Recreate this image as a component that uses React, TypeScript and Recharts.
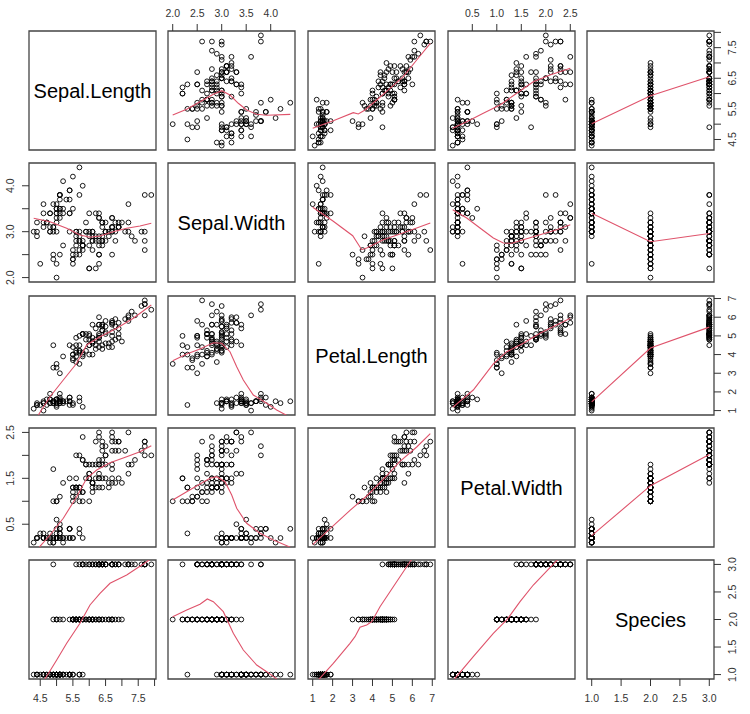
import React from 'react';
import { ScatterChart, Scatter, XAxis, YAxis, ReferenceArea } from 'recharts';

// ---------- data (iris) ----------
const SEPAL_LENGTH = [
  5.1,4.9,4.7,4.6,5.0,5.4,4.6,5.0,4.4,4.9,5.4,4.8,4.8,4.3,5.8,5.7,5.4,5.1,5.7,5.1,5.4,5.1,4.6,5.1,4.8,
  5.0,5.0,5.2,5.2,4.7,4.8,5.4,5.2,5.5,4.9,5.0,5.5,4.9,4.4,5.1,5.0,4.5,4.4,5.0,5.1,4.8,5.1,4.6,5.3,5.0,
  7.0,6.4,6.9,5.5,6.5,5.7,6.3,4.9,6.6,5.2,5.0,5.9,6.0,6.1,5.6,6.7,5.6,5.8,6.2,5.6,5.9,6.1,6.3,6.1,6.4,
  6.6,6.8,6.7,6.0,5.7,5.5,5.5,5.8,6.0,5.4,6.0,6.7,6.3,5.6,5.5,5.5,6.1,5.8,5.0,5.6,5.7,5.7,6.2,5.1,5.7,
  6.3,5.8,7.1,6.3,6.5,7.6,4.9,7.3,6.7,7.2,6.5,6.4,6.8,5.7,5.8,6.4,6.5,7.7,7.7,6.0,6.9,5.6,7.7,6.3,6.7,
  7.2,6.2,6.1,6.4,7.2,7.4,7.9,6.4,6.3,6.1,7.7,6.3,6.4,6.0,6.9,6.7,6.9,5.8,6.8,6.7,6.7,6.3,6.5,6.2,5.9,
];
const SEPAL_WIDTH = [
  3.5,3.0,3.2,3.1,3.6,3.9,3.4,3.4,2.9,3.1,3.7,3.4,3.0,3.0,4.0,4.4,3.9,3.5,3.8,3.8,3.4,3.7,3.6,3.3,3.4,
  3.0,3.4,3.5,3.4,3.2,3.1,3.4,4.1,4.2,3.1,3.2,3.5,3.6,3.0,3.4,3.5,2.3,3.2,3.5,3.8,3.0,3.8,3.2,3.7,3.3,
  3.2,3.2,3.1,2.3,2.8,2.8,3.3,2.4,2.9,2.7,2.0,3.0,2.2,2.9,2.9,3.1,3.0,2.7,2.2,2.5,3.2,2.8,2.5,2.8,2.9,
  3.0,2.8,3.0,2.9,2.6,2.4,2.4,2.7,2.7,3.0,3.4,3.1,2.3,3.0,2.5,2.6,3.0,2.6,2.3,2.7,3.0,2.9,2.9,2.5,2.8,
  3.3,2.7,3.0,2.9,3.0,3.0,2.5,2.9,2.5,3.6,3.2,2.7,3.0,2.5,2.8,3.2,3.0,3.8,2.6,2.2,3.2,2.8,2.8,2.7,3.3,
  3.2,2.8,3.0,2.8,3.0,2.8,3.8,2.8,2.8,2.6,3.0,3.4,3.1,3.0,3.1,3.1,3.1,2.7,3.2,3.3,3.0,2.5,3.0,3.4,3.0,
];
const PETAL_LENGTH = [
  1.4,1.4,1.3,1.5,1.4,1.7,1.4,1.5,1.4,1.5,1.5,1.6,1.4,1.1,1.2,1.5,1.3,1.4,1.7,1.5,1.7,1.5,1.0,1.7,1.9,
  1.6,1.6,1.5,1.4,1.6,1.6,1.5,1.5,1.4,1.5,1.2,1.3,1.4,1.3,1.5,1.3,1.3,1.3,1.6,1.9,1.4,1.6,1.4,1.5,1.4,
  4.7,4.5,4.9,4.0,4.6,4.5,4.7,3.3,4.6,3.9,3.5,4.2,4.0,4.7,3.6,4.4,4.5,4.1,4.5,3.9,4.8,4.0,4.9,4.7,4.3,
  4.4,4.8,5.0,4.5,3.5,3.8,3.7,3.9,5.1,4.5,4.5,4.7,4.4,4.1,4.0,4.4,4.6,4.0,3.3,4.2,4.2,4.2,4.3,3.0,4.1,
  6.0,5.1,5.9,5.6,5.8,6.6,4.5,6.3,5.8,6.1,5.1,5.3,5.5,5.0,5.1,5.3,5.5,6.7,6.9,5.0,5.7,4.9,6.7,4.9,5.7,
  6.0,4.8,4.9,5.6,5.8,6.1,6.4,5.6,5.1,5.6,6.1,5.6,5.5,4.8,5.4,5.6,5.1,5.1,5.9,5.7,5.2,5.0,5.2,5.4,5.1,
];
const PETAL_WIDTH = [
  0.2,0.2,0.2,0.2,0.2,0.4,0.3,0.2,0.2,0.1,0.2,0.2,0.1,0.1,0.2,0.4,0.4,0.3,0.3,0.3,0.2,0.4,0.2,0.5,0.2,
  0.2,0.4,0.2,0.2,0.2,0.2,0.4,0.1,0.2,0.2,0.2,0.2,0.1,0.2,0.2,0.3,0.3,0.2,0.6,0.4,0.3,0.2,0.2,0.2,0.2,
  1.4,1.5,1.5,1.3,1.5,1.3,1.6,1.0,1.3,1.4,1.0,1.5,1.0,1.4,1.3,1.4,1.5,1.0,1.5,1.1,1.8,1.3,1.5,1.2,1.3,
  1.4,1.4,1.7,1.5,1.0,1.1,1.0,1.2,1.6,1.5,1.6,1.5,1.3,1.3,1.3,1.2,1.4,1.2,1.0,1.3,1.2,1.3,1.3,1.1,1.3,
  2.5,1.9,2.1,1.8,2.2,2.1,1.7,1.8,1.8,2.5,2.0,1.9,2.1,2.0,2.4,2.3,1.8,2.2,2.3,1.5,2.3,2.0,2.0,1.8,2.1,
  1.8,1.8,1.8,2.1,1.6,1.9,2.0,2.2,1.5,1.4,2.3,2.4,1.8,1.8,2.1,2.4,2.3,1.9,2.3,2.5,2.3,1.9,2.0,2.3,1.8,
];
const SPECIES = [
  1,1,1,1,1,1,1,1,1,1,1,1,1,1,1,1,1,1,1,1,1,1,1,1,1,
  1,1,1,1,1,1,1,1,1,1,1,1,1,1,1,1,1,1,1,1,1,1,1,1,1,
  2,2,2,2,2,2,2,2,2,2,2,2,2,2,2,2,2,2,2,2,2,2,2,2,2,
  2,2,2,2,2,2,2,2,2,2,2,2,2,2,2,2,2,2,2,2,2,2,2,2,2,
  3,3,3,3,3,3,3,3,3,3,3,3,3,3,3,3,3,3,3,3,3,3,3,3,3,
  3,3,3,3,3,3,3,3,3,3,3,3,3,3,3,3,3,3,3,3,3,3,3,3,3,
];

const VAR_NAMES = ['Sepal.Length', 'Sepal.Width', 'Petal.Length', 'Petal.Width', 'Species'];
const VARS = [SEPAL_LENGTH, SEPAL_WIDTH, PETAL_LENGTH, PETAL_WIDTH, SPECIES];

// axis ranges (data range extended by 4%)
const DOMAINS: [number, number][] = [
  [4.156, 8.044],
  [1.904, 4.496],
  [0.764, 7.136],
  [0.004, 2.596],
  [0.92, 3.08],
];

// tick positions and labels
const TICKS = [
  [4.5, 5, 5.5, 6, 6.5, 7, 7.5, 8],
  [2, 2.5, 3, 3.5, 4],
  [1, 2, 3, 4, 5, 6, 7],
  [0.5, 1, 1.5, 2, 2.5],
  [1, 1.5, 2, 2.5, 3],
];
const OUTER_LABELS = [
  [4.5, 5.5, 6.5, 7.5],
  [2, 2.5, 3, 3.5, 4],
  [1, 2, 3, 4, 5, 6, 7],
  [0.5, 1, 1.5, 2, 2.5],
  [1, 1.5, 2, 2.5, 3],
];
const LEFT_LABELS = [
  [4.5, 5.5, 6.5, 7.5],
  [2, 3, 4],
  [1, 2, 3, 4, 5, 6, 7],
  [0.5, 1.5, 2.5],
  [1, 1.5, 2, 2.5, 3],
];
const TICK_DIGITS = [1, 1, 0, 1, 1];

// smoother curves: [x (column var), y (row var)]
const SMOOTH_SL_SW = [[2.0,5.30],[2.285,5.485],[2.557,5.735],[2.829,5.975],[3.0,6.095],[3.169,5.953],[3.339,5.682],[3.51,5.463],[3.714,5.322],[3.918,5.289],[4.4,5.32]];
const SMOOTH_SL_PL = [[1.0,4.865],[2.033,5.114],[3.037,5.375],[3.288,5.332],[3.624,5.463],[4.211,5.79],[4.878,6.172],[5.545,6.551],[6.218,7.097],[6.9,7.642]];
const SMOOTH_SL_PW = [[0.1,4.87],[0.386,5.081],[0.724,5.355],[1.065,5.626],[1.406,6.009],[1.745,6.388],[2.086,6.607],[2.5,6.826]];
const SMOOTH_SL_SP = [[1,5.01],[2,5.93],[3,6.55]];
const SMOOTH_SW_SL = [[4.3,3.291],[4.799,3.217],[5.31,3.074],[5.717,2.928],[6.023,2.878],[6.33,2.906],[6.737,3.0],[7.147,3.074],[7.554,3.124],[7.9,3.183]];
const SMOOTH_SW_PL = [[1.0,3.531],[2.033,3.226],[3.007,2.912],[3.458,2.608],[3.709,2.645],[4.542,2.825],[5.38,2.949],[6.218,3.08],[6.9,3.189]];
const SMOOTH_SW_PW = [[0.1,3.479],[0.386,3.298],[0.657,3.08],[0.929,2.862],[1.133,2.753],[1.304,2.747],[1.541,2.825],[1.882,2.934],[2.222,3.043],[2.5,3.152]];
const SMOOTH_SW_SP = [[1,3.40],[2,2.78],[3,2.96]];
const SMOOTH_PL_SL = [[4.3,0.38],[4.441,0.764],[4.799,1.744],[5.206,2.638],[5.616,3.532],[5.922,4.512],[6.33,4.957],[6.841,5.406],[7.349,5.942],[7.9,6.654]];
const SMOOTH_PL_SW = [[2.0,3.671],[2.286,4.03],[2.557,4.298],[2.829,4.635],[3.0,4.603],[3.169,4.153],[3.306,3.35],[3.441,2.638],[3.645,1.835],[3.918,1.39],[4.122,1.032],[4.4,0.64]];
const SMOOTH_PL_PW = [[0.1,1.176],[0.52,2.103],[0.929,3.495],[1.202,4.153],[1.541,4.603],[1.882,5.139],[2.222,5.583],[2.5,5.942]];
const SMOOTH_PL_SP = [[1,1.47],[2,4.35],[3,5.47]];
const SMOOTH_PW_SL = [[4.3,-0.13],[4.471,0.0],[4.799,0.265],[5.206,0.629],[5.616,1.1],[5.922,1.5],[6.229,1.681],[6.636,1.84],[7.147,1.971],[7.554,2.08],[7.9,2.211]];
const SMOOTH_PW_SW = [[2.0,1.028],[2.286,1.209],[2.557,1.376],[2.761,1.5],[2.898,1.535],[3.067,1.426],[3.204,1.137],[3.306,0.847],[3.51,0.52],[3.782,0.302],[4.054,0.157],[4.4,0.0]];
const SMOOTH_PW_PL = [[1.0,0.054],[2.871,0.803],[3.709,1.115],[4.542,1.479],[5.38,1.871],[6.218,2.182],[6.9,2.472]];
const SMOOTH_PW_SP = [[1,0.25],[2,1.34],[3,2.02]];
const SMOOTH_SP_SL = [[4.3,0.59],[4.646,0.92],[5.004,1.265],[5.31,1.568],[5.717,1.931],[6.023,2.263],[6.33,2.476],[6.636,2.657],[7.147,2.808],[7.759,3.049],[7.9,3.11]];
const SMOOTH_SP_SW = [[2.0,2.051],[2.286,2.172],[2.557,2.276],[2.706,2.372],[2.829,2.323],[3.033,2.142],[3.237,1.75],[3.441,1.446],[3.714,1.174],[3.918,1.053],[4.122,0.92],[4.4,0.729]];
const SMOOTH_SP_PL = [[1.0,0.79],[1.281,0.902],[2.033,1.205],[2.871,1.568],[3.122,1.688],[3.373,1.858],[3.709,1.9],[3.96,1.96],[4.376,2.232],[5.044,2.595],[5.881,3.049],[6.9,3.5]];
const SMOOTH_SP_PW = [[0.1,0.833],[0.147,0.933],[0.52,1.325],[0.929,1.75],[1.202,1.991],[1.474,2.323],[1.745,2.626],[2.222,3.067],[2.5,3.305]];

const SMOOTH: (number[][] | null)[][] = [
  [null, SMOOTH_SL_SW, SMOOTH_SL_PL, SMOOTH_SL_PW, SMOOTH_SL_SP],
  [SMOOTH_SW_SL, null, SMOOTH_SW_PL, SMOOTH_SW_PW, SMOOTH_SW_SP],
  [SMOOTH_PL_SL, SMOOTH_PL_SW, null, SMOOTH_PL_PW, SMOOTH_PL_SP],
  [SMOOTH_PW_SL, SMOOTH_PW_SW, SMOOTH_PW_PL, null, SMOOTH_PW_SP],
  [SMOOTH_SP_SL, SMOOTH_SP_SW, SMOOTH_SP_PL, SMOOTH_SP_PW, null],
];

// ---------- layout ----------
const COL_LEFT = [29, 168, 308, 448, 587];
const ROW_TOP = [31, 163, 296, 428, 560];
const PANEL_W = 127;
const PANEL_H = 119;
const M = 30;
const FONT = '"Liberation Sans", Arial, Helvetica, sans-serif';
const SMOOTH_COLOR = '#DF536B';

const CircleShape = (props: any) => {
  const { cx, cy } = props;
  if (cx == null || cy == null) return <g />;
  return <circle cx={cx} cy={cy} r={2.4} fill="none" stroke="#000" strokeWidth={0.9} />;
};
const NoShape = () => <g />;

function makeTick(side: string, labels: number[], digits: number) {
  return (props: any) => {
    const { x, y, payload } = props;
    const v = Number(payload.value);
    if (!labels.some((l) => Math.abs(l - v) < 1e-6)) return <g />;
    const d = 11.5;
    let tx = x;
    let ty = y;
    let rot = false;
    if (side === 'top') ty = y - d;
    else if (side === 'bottom') ty = y + d;
    else if (side === 'left') { tx = x - d; rot = true; }
    else { tx = x + d; rot = true; }
    return (
      <text
        x={tx}
        y={ty}
        transform={rot ? `rotate(-90 ${tx} ${ty})` : undefined}
        textAnchor="middle"
        dominantBaseline="central"
        fontSize={10.5}
        fill="#333"
        fontFamily={FONT}
      >
        {v.toFixed(digits)}
      </text>
    );
  };
}

function Panel({ row, col }: { row: number; col: number }) {
  const diag = row === col;
  const [xlo, xhi] = DOMAINS[col];
  const [ylo, yhi] = DOMAINS[row];
  const xSide = row === 0 ? 'top' : 'bottom';
  const ySide = col === 0 ? 'left' : 'right';
  const xVis = (row === 0 && col % 2 === 1) || (row === 4 && col % 2 === 0);
  const yVis = (col === 0 && row % 2 === 1) || (col === 4 && row % 2 === 0);
  const points = diag ? [] : VARS[col].map((v, k) => ({ x: v, y: VARS[row][k] }));
  const sm = SMOOTH[row][col];
  const curve = sm ? sm.map(([x, y]) => ({ x, y })) : [];
  const margin = {
    top: xSide === 'top' ? 0 : M,
    bottom: xSide === 'bottom' ? 0 : M,
    left: ySide === 'left' ? 0 : M,
    right: ySide === 'right' ? 0 : M,
  };
  return (
    <div style={{ position: 'absolute', left: COL_LEFT[col] - M, top: ROW_TOP[row] - M }}>
      <ScatterChart width={PANEL_W + 2 * M} height={PANEL_H + 2 * M} margin={margin}>
        <XAxis
          type="number"
          dataKey="x"
          orientation={xSide as any}
          domain={[xlo, xhi]}
          allowDataOverflow
          ticks={xVis ? TICKS[col] : []}
          interval={0}
          height={M}
          tickSize={7}
          tickMargin={0}
          axisLine={false}
          tickLine={xVis ? { stroke: '#333', strokeWidth: 1 } : false}
          tick={xVis ? makeTick(xSide, OUTER_LABELS[col], TICK_DIGITS[col]) : false}
        />
        <YAxis
          type="number"
          dataKey="y"
          orientation={ySide as any}
          domain={[ylo, yhi]}
          allowDataOverflow
          ticks={yVis ? TICKS[row] : []}
          interval={0}
          width={M}
          tickSize={7}
          tickMargin={0}
          axisLine={false}
          tickLine={yVis ? { stroke: '#333', strokeWidth: 1 } : false}
          tick={yVis ? makeTick(ySide, ySide === 'left' ? LEFT_LABELS[row] : OUTER_LABELS[row], TICK_DIGITS[row]) : false}
        />
        {!diag && (
          <Scatter data={points} shape={CircleShape} isAnimationActive={false} />
        )}
        {!diag && (
          <Scatter
            data={curve}
            shape={NoShape}
            line={{ stroke: SMOOTH_COLOR, strokeWidth: 1.1 }}
            lineType="joint"
            isAnimationActive={false}
          />
        )}
        <ReferenceArea
          x1={xlo}
          x2={xhi}
          y1={ylo}
          y2={yhi}
          ifOverflow="visible"
          fill="none"
          fillOpacity={0}
          stroke="#444"
          strokeWidth={1.3}
          label={diag ? { value: VAR_NAMES[row], position: 'center', fontSize: 20, fill: '#000', fontFamily: FONT } : undefined}
        />
      </ScatterChart>
    </div>
  );
}

export default function App() {
  const cells: React.ReactNode[] = [];
  for (let r = 0; r < 5; r++) {
    for (let c = 0; c < 5; c++) {
      cells.push(<Panel key={`${r}-${c}`} row={r} col={c} />);
    }
  }
  return (
    <div
      style={{
        position: 'absolute',
        left: 0,
        top: 0,
        width: 750,
        height: 714,
        background: '#fff',
        fontFamily: FONT,
        overflow: 'hidden',
      }}
    >
      {cells}
    </div>
  );
}
